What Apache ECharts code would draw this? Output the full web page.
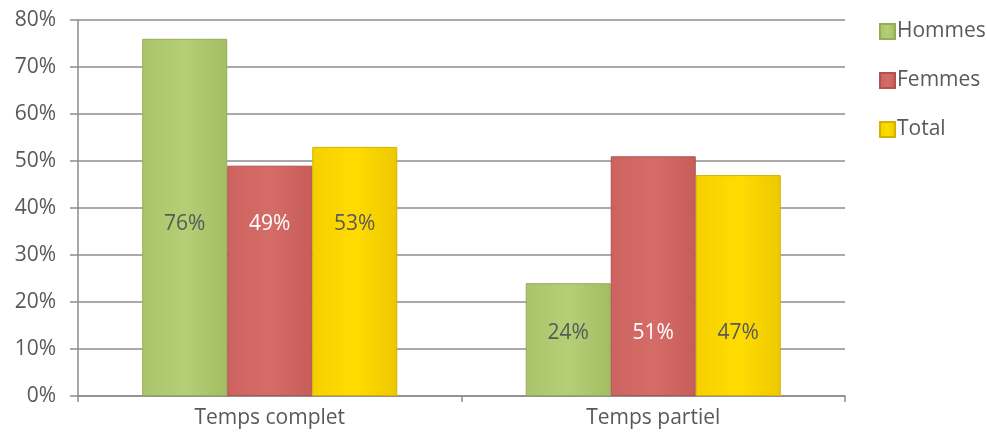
<!DOCTYPE html>
<html><head><meta charset="utf-8">
<script src="https://cdn.jsdelivr.net/npm/echarts@6/dist/echarts.min.js"></script>
<style>html,body{margin:0;padding:0;background:#fff}#c{width:987px;height:437px}</style>
</head><body><div id="c"></div>
<script>
const categories = ['Temps complet', 'Temps partiel'];
const hommes = [76, 24];
const femmes = [49, 51];
const total = [53, 47];
const yTicks = [0, 10, 20, 30, 40, 50, 60, 70, 80];

const FONT = "'Open Sans', sans-serif";
const labelDist = [161, 52];
function mk(vals) {
  return vals.map((v, i) => ({
    value: v,
    label: { distance: labelDist[i] }
  }));
}
function grad(c1, c2, c3) {
  return new echarts.graphic.LinearGradient(0, 0, 1, 0, [
    { offset: 0, color: c1 }, { offset: 0.5, color: c2 }, { offset: 1, color: c3 }
  ]);
}
function series(name, vals, color, labelColor, border) {
  return {
    name, type: 'bar', data: mk(vals),
    barGap: '0%', barCategoryGap: '33.5%',
    itemStyle: { color: color, borderColor: border, borderWidth: 1 },
    label: {
      show: true, position: 'insideBottom', color: labelColor,
      fontFamily: FONT, fontSize: 21,
      formatter: p => p.value + '%'
    }
  };
}
const chart = echarts.init(document.getElementById('c'));
chart.setOption({
  animation: false,
  grid: { left: 78, right: 142, top: 20, bottom: 41 },
  legend: {
    orient: 'vertical', left: 874, top: 15, itemGap: 26,
    itemWidth: 15, itemHeight: 15, icon: 'rect',
    textStyle: { fontFamily: FONT, fontSize: 21, color: '#595959', lineHeight: 23, padding: [0, 0, 0, -3] },
    data: ['Hommes', 'Femmes', 'Total']
  },
  xAxis: {
    type: 'category', data: categories,
    axisLine: { lineStyle: { color: '#8c8c8c', width: 1.5 } },
    axisTick: { show: true, length: 6, alignWithLabel: false, lineStyle: { color: '#8c8c8c', width: 1.5 } },
    axisLabel: { fontFamily: FONT, fontSize: 21, color: '#595959', margin: 12 }
  },
  yAxis: {
    type: 'value', min: 0, max: 80, interval: 10,
    axisLine: { show: true, lineStyle: { color: '#8c8c8c', width: 1.5 } },
    axisTick: { show: true, inside: false, length: 8, lineStyle: { color: '#8c8c8c', width: 1.5 } },
    splitLine: { lineStyle: { color: '#8c8c8c', width: 1.5 } },
    axisLabel: { fontFamily: FONT, fontSize: 21, color: '#595959', margin: 22,
      formatter: v => yTicks.includes(v) ? v + '%' : '' }
  },
  series: [
    series('Hommes', hommes, grad('#a9c46a', '#b5cf77', '#a3bd63'), '#595959', '#95ad58'),
    series('Femmes', femmes, grad('#cc635f', '#d66c68', '#c65d59'), '#ffffff', '#b0524f'),
    series('Total', total, grad('#f5d000', '#ffdc00', '#edc800'), '#595959', '#d4b200')
  ]
});
</script></body></html>
